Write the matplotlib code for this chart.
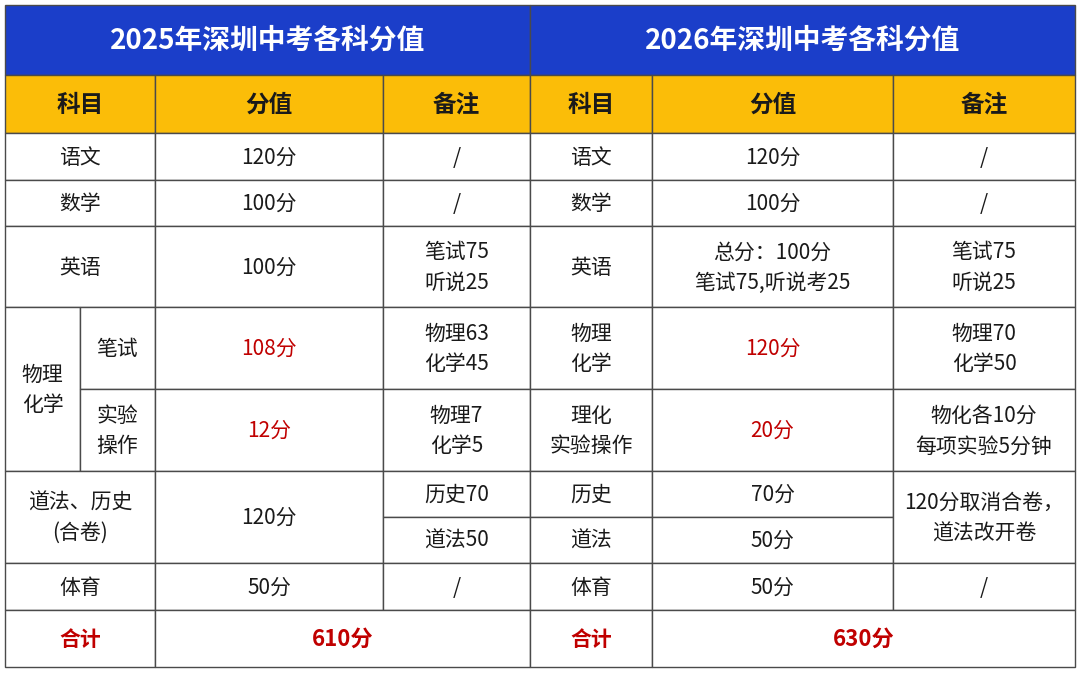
import matplotlib
matplotlib.use("Agg")
import matplotlib.pyplot as plt
from matplotlib.patches import Rectangle

plt.rcParams['font.family'] = ['Noto Sans CJK SC', 'DejaVu Sans']

titles = ["2025年深圳中考各科分值", "2026年深圳中考各科分值"]
headers = ["科目", "分值", "备注"]
left_subjects = ["语文", "数学", "英语", "物理\n化学", "笔试", "实验\n操作", "道法、历史\n(合卷)", "体育", "合计"]
left_scores = ["120分", "100分", "100分", "108分", "12分", "120分", "50分", "610分"]
left_notes = ["/", "/", "笔试75\n听说25", "物理63\n化学45", "物理7\n化学5", "历史70", "道法50", "/"]
right_subjects = ["语文", "数学", "英语", "物理\n化学", "理化\n实验操作", "历史", "道法", "体育", "合计"]
right_scores = ["120分", "100分", "总分：100分\n笔试75,听说考25", "120分", "20分", "70分", "50分", "50分", "630分"]
right_notes = ["/", "/", "笔试75\n听说25", "物理70\n化学50", "物化各10分\n每项实验5分钟", "120分取消合卷，\n道法改开卷", "/"]

BLUE = "#1b3ec9"; YEL = "#fbbd08"; RED = "#c00000"; TXT = "#1a1a1a"; LINE = "#4a4a4a"

fig = plt.figure(figsize=(10.8, 6.73), dpi=100)
ax = fig.add_axes([0, 0, 1, 1])
ax.set_xlim(0, 1080); ax.set_ylim(673, 0); ax.axis("off")

def cell(x0, x1, y0, y1, text, fc="white", color=TXT, size=15, bold=False):
    ax.add_patch(Rectangle((x0, y0), x1 - x0, y1 - y0, facecolor=fc, edgecolor=LINE, lw=1))
    ax.text((x0 + x1) / 2, (y0 + y1) / 2 + 1, text, ha="center", va="center", color=color,
            fontsize=size, fontweight="bold" if bold else "medium", linespacing=1.5)

R = [133, 180, 226, 307, 389, 471, 517, 563, 610, 667]

# Left table
cell(5, 530, 5, 75, titles[0], fc=BLUE, color="white", size=20, bold=True)
for (a, b), h in zip([(5, 155), (155, 383), (383, 530)], headers):
    cell(a, b, 75, 133, h, fc=YEL, size=17, bold=True)
for i in range(3):
    cell(5, 155, R[i], R[i+1], left_subjects[i])
    cell(155, 383, R[i], R[i+1], left_scores[i])
    cell(383, 530, R[i], R[i+1], left_notes[i])
cell(5, 80, R[3], R[5], left_subjects[3])
cell(80, 155, R[3], R[4], left_subjects[4])
cell(80, 155, R[4], R[5], left_subjects[5])
cell(155, 383, R[3], R[4], left_scores[3], color=RED)
cell(155, 383, R[4], R[5], left_scores[4], color=RED)
cell(383, 530, R[3], R[4], left_notes[3])
cell(383, 530, R[4], R[5], left_notes[4])
cell(5, 155, R[5], R[7], left_subjects[6])
cell(155, 383, R[5], R[7], left_scores[5])
cell(383, 530, R[5], R[6], left_notes[5])
cell(383, 530, R[6], R[7], left_notes[6])
cell(5, 155, R[7], R[8], left_subjects[7])
cell(155, 383, R[7], R[8], left_scores[6])
cell(383, 530, R[7], R[8], left_notes[7])
cell(5, 155, R[8], R[9], left_subjects[8], color=RED, size=15, bold=True)
cell(155, 530, R[8], R[9], left_scores[7], color=RED, size=16, bold=True)

# Right table
cell(530, 1075, 5, 75, titles[1], fc=BLUE, color="white", size=20, bold=True)
for (a, b), h in zip([(530, 652), (652, 893), (893, 1075)], headers):
    cell(a, b, 75, 133, h, fc=YEL, size=17, bold=True)
for i in range(8):
    c = RED if i in (3, 4) else TXT
    cell(530, 652, R[i], R[i+1], right_subjects[i])
    cell(652, 893, R[i], R[i+1], right_scores[i], color=c)
for i in range(5):
    cell(893, 1075, R[i], R[i+1], right_notes[i])
cell(893, 1075, R[5], R[7], right_notes[5])
cell(893, 1075, R[7], R[8], right_notes[6])
cell(530, 652, R[8], R[9], right_subjects[8], color=RED, size=15, bold=True)
cell(652, 1075, R[8], R[9], right_scores[8], color=RED, size=16, bold=True)

fig.savefig("out.png", dpi=100)
